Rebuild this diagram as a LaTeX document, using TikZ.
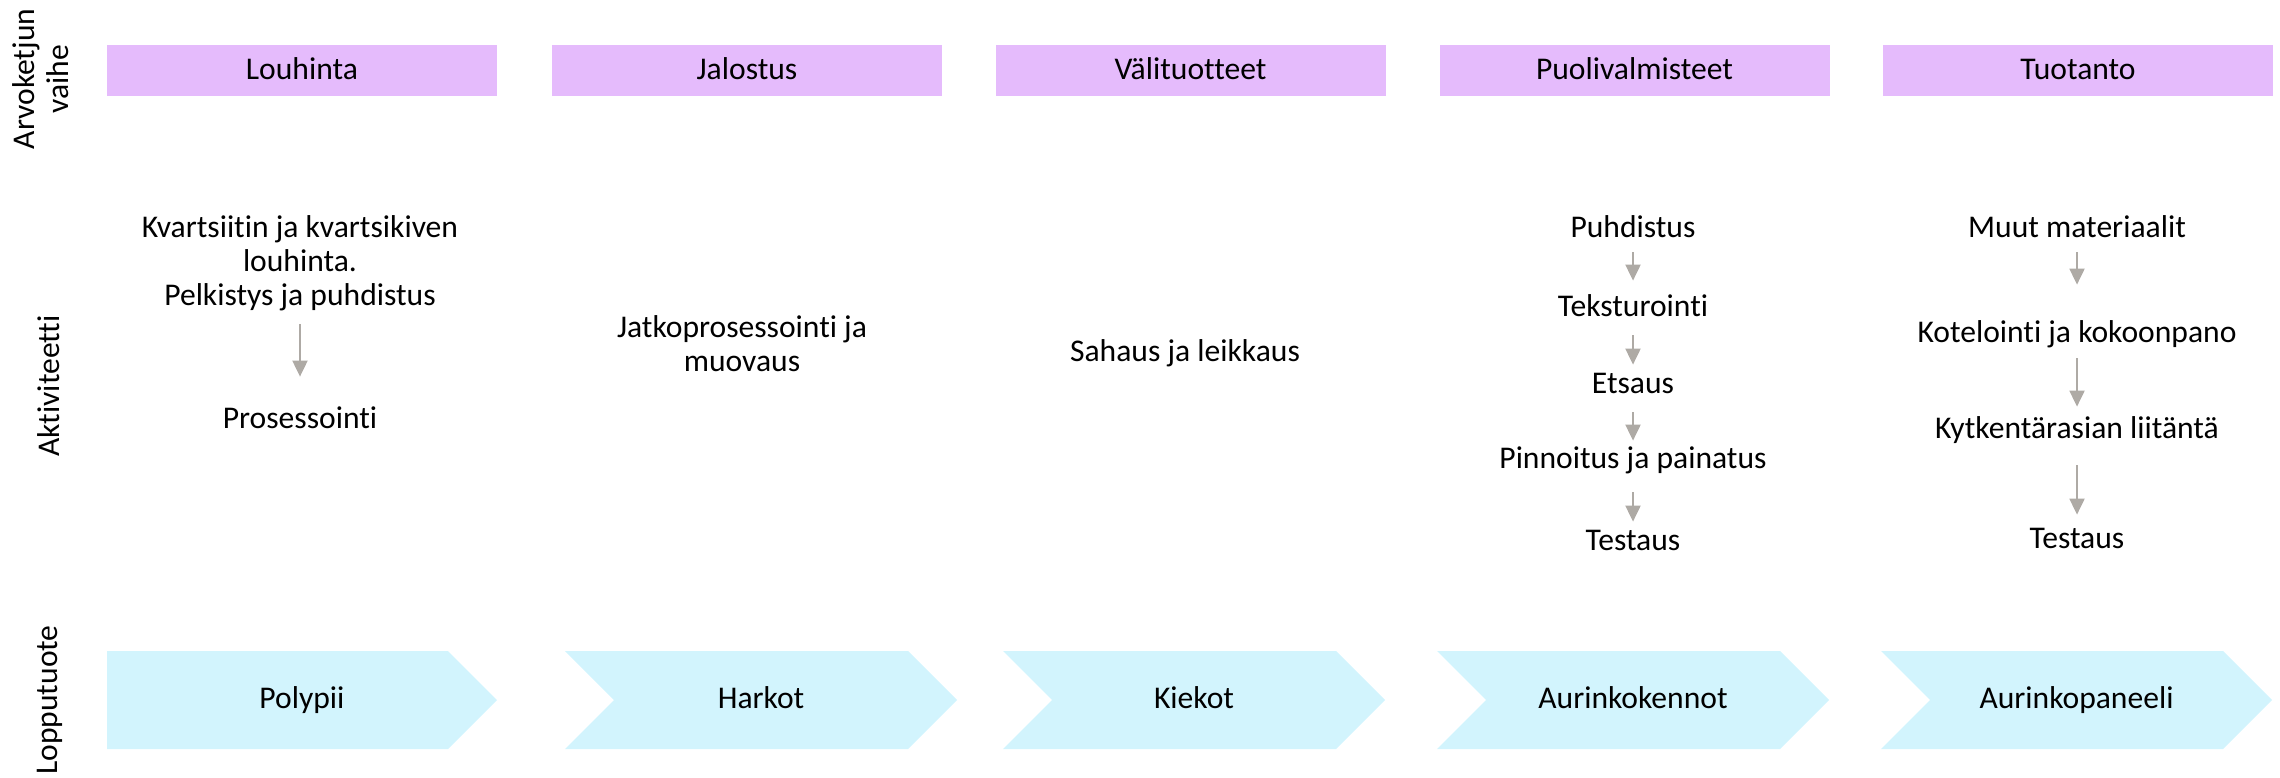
\documentclass[tikz,border=0pt]{standalone}
\usepackage{fontspec}
\setmainfont{Carlito}[Ligatures={NoCommon,NoContextual}]
\usetikzlibrary{arrows.meta}
\definecolor{vaihe}{RGB}{229,187,252}
\definecolor{tuote}{RGB}{210,244,253}
\definecolor{nuoliharmaa}{RGB}{174,170,165}
\tikzset{
  teksti/.style={font=\fontsize{15.8}{17}\selectfont, align=center, inner sep=0pt, anchor=base},
  rivi/.style={teksti, text height=12pt, text depth=3.5pt},
  vaihebox/.style={rivi, anchor=center, fill=vaihe, minimum width=195pt, minimum height=25.5pt},
  nuoli/.style={draw=nuoliharmaa, line width=1pt, -{Triangle[width=7.5pt,length=8pt]}}
}
\begin{document}
\begin{tikzpicture}[x=0.5pt,y=-0.5pt]
        \useasboundingbox (0,0) rectangle (2280,777);

        %rivien otsikot (base = viimeisen rivin perusviiva)
        \node[teksti, rotate=90] (arvoketju) at (68,79) {Arvoketjun\\vaihe};
        \node[teksti, rotate=90] (aktiviteetti) at (59,386) {Aktiviteetti};
        \node[teksti, rotate=90] (lopputuote) at (57,700) {Lopputuote};

        %vaiheet
        \node[vaihebox] (louhinta) at (302,70.5) {Louhinta};
        \node[vaihebox] (jalostus) at (747,70.5) {Jalostus};
        \node[vaihebox] (valituotteet) at (1190.5,70.5) {Välituotteet};
        \node[vaihebox] (puolivalm) at (1634.5,70.5) {Puolivalmisteet};
        \node[vaihebox] (tuotanto) at (2078,70.5) {Tuotanto};

        %lopputuotteet
        \fill[tuote] (107,651) -- ++(341,0) -- ++(49,49) -- ++(-49,49) -- ++(-341,0) -- cycle;
        \fill[tuote] (565,651) -- ++(343,0) -- ++(49,49) -- ++(-49,49) -- ++(-343,0) -- ++(49,-49) -- cycle;
        \fill[tuote] (1003,651) -- ++(333,0) -- ++(49,49) -- ++(-49,49) -- ++(-333,0) -- ++(49,-49) -- cycle;
        \fill[tuote] (1437,651) -- ++(343,0) -- ++(49,49) -- ++(-49,49) -- ++(-343,0) -- ++(49,-49) -- cycle;
        \fill[tuote] (1881,651) -- ++(342,0) -- ++(49,49) -- ++(-49,49) -- ++(-342,0) -- ++(49,-49) -- cycle;
        \node[rivi, anchor=center] (polypii) at (302,700) {Polypii};
        \node[rivi, anchor=center] (harkot) at (761,700) {Harkot};
        \node[rivi, anchor=center] (kiekot) at (1194,700) {Kiekot};
        \node[rivi, anchor=center] (kennot) at (1633,700) {Aurinkokennot};
        \node[rivi, anchor=center] (paneeli) at (2076.5,700) {Aurinkopaneeli};

        %louhinta
        \node[teksti] (kvartsi) at (300,305) {Kvartsiitin ja kvartsikiven\\louhinta.\\Pelkistys ja puhdistus};
        \node[rivi] (prosessointi) at (300,428) {Prosessointi};
        \draw[nuoli, shorten <=6.5pt, shorten >=13.5pt] (kvartsi) -- (prosessointi);

        %jalostus ja valituotteet
        \node[teksti] (jatko) at (742,371) {Jatkoprosessointi ja\\muovaus};
        \node[rivi] (sahaus) at (1185,361) {Sahaus ja leikkaus};

        %puolivalmisteet
        \node[rivi] (puhdistus) at (1633,237) {Puhdistus};
        \node[rivi] (teksturointi) at (1633,316) {Teksturointi};
        \node[rivi] (etsaus) at (1633,393) {Etsaus};
        \node[rivi] (pinnoitus) at (1633,468) {Pinnoitus ja painatus};
        \node[rivi] (testaus) at (1633,550) {Testaus};
        \draw[nuoli, shorten <=4pt, shorten >=5.5pt] (puhdistus) -- (teksturointi);
        \draw[nuoli, shorten <=6pt, shorten >=2pt] (teksturointi) -- (etsaus);
        \draw[nuoli, shorten <=6pt, shorten >=1.5pt] (etsaus) -- (pinnoitus);
        \draw[nuoli, shorten <=8.5pt, shorten >=2pt] (pinnoitus) -- (testaus);

        %tuotanto
        \node[rivi] (muut) at (2077,237) {Muut materiaalit};
        \node[rivi] (kotelointi) at (2077,342) {Kotelointi ja kokoonpano};
        \node[rivi] (kytkenta) at (2077,438) {Kytkentärasian liitäntä};
        \node[rivi] (testaus2) at (2077,548) {Testaus};
        \draw[nuoli, shorten <=4pt, shorten >=16.5pt] (muut) -- (kotelointi);
        \draw[nuoli, shorten <=4.5pt, shorten >=3.5pt] (kotelointi) -- (kytkenta);
        \draw[nuoli, shorten <=10pt, shorten >=4.5pt] (kytkenta) -- (testaus2);
    \end{tikzpicture}
\end{document}
